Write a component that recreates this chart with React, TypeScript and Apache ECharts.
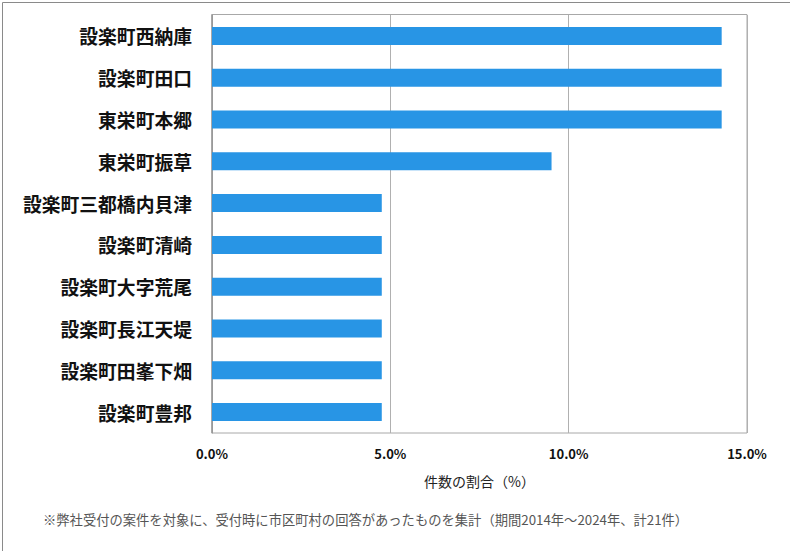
import React, { useEffect, useRef } from "react";
import * as echarts from "echarts";

const categories = [
  "設楽町西納庫",
  "設楽町田口",
  "東栄町本郷",
  "東栄町振草",
  "設楽町三都橋内貝津",
  "設楽町清崎",
  "設楽町大字荒尾",
  "設楽町長江天堤",
  "設楽町田峯下畑",
  "設楽町豊邦",
];
const values = [14.29, 14.29, 14.29, 9.52, 4.76, 4.76, 4.76, 4.76, 4.76, 4.76];
const xTicks = [0, 5, 10, 15];
const axisName = "件数の割合（%）";
const footnote = "※弊社受付の案件を対象に、受付時に市区町村の回答があったものを集計（期間2014年～2024年、計21件）";

export default function App() {
  const ref = useRef<HTMLDivElement>(null);
  useEffect(() => {
    if (!ref.current) return;
    const chart = echarts.init(ref.current, null, { renderer: "svg" });
    const font = '"Noto Sans CJK JP", "Noto Sans", sans-serif';
    chart.setOption({
      animation: false,
      textStyle: { fontFamily: font },
      grid: { left: 212, right: 43, top: 15, bottom: 118, containLabel: false },
      xAxis: {
        type: "value",
        min: 0,
        max: 15,
        interval: xTicks[1] - xTicks[0],
        axisLine: { show: false },
        axisTick: { show: false },
        splitLine: { show: true, lineStyle: { color: "#b0b0b0", width: 1 } },
        axisLabel: {
          formatter: (v: number) => v.toFixed(1) + "%",
          fontWeight: "bold",
          fontSize: 13,
          color: "#111",
          margin: 14,
          fontFamily: font,
        },
        name: axisName,
        nameLocation: "middle",
        nameGap: 41,
        nameTextStyle: { fontSize: 14, color: "#222", fontFamily: font },
      },
      yAxis: {
        type: "category",
        data: categories,
        inverse: true,
        axisLine: { show: true, lineStyle: { color: "#999", width: 1 } },
        axisTick: { show: false },
        axisLabel: {
          fontWeight: "bold",
          fontSize: 18.8,
          color: "#111",
          margin: 20,
          fontFamily: font,
        },
      },
      series: [
        {
          type: "bar",
          data: values,
          barWidth: 18,
          itemStyle: { color: "#2895e5" },
        },
      ],
      graphic: [
        {
          type: "rect",
          left: 0,
          top: 0,
          shape: { x: 0.5, y: 0.5, width: 789, height: 550 },
          style: { fill: "none", stroke: "#8a8a8a", lineWidth: 1 },
          silent: true,
        },
        {
          type: "rect",
          shape: { x: 211.5, y: 14.5, width: 535.5, height: 418.5 },
          style: { fill: "none", stroke: "#a8a8a8", lineWidth: 1 },
          silent: true,
          z: -1,
        },
        {
          type: "text",
          left: 43,
          top: 513,
          style: { text: footnote, fontSize: 13.3, fill: "#555", fontFamily: font },
        },
      ],
    });
    return () => chart.dispose();
  }, []);
  return (
    <div
      ref={ref}
      style={{ position: "absolute", left: 0, top: 0, width: 790, height: 551, background: "#fff" }}
    />
  );
}
